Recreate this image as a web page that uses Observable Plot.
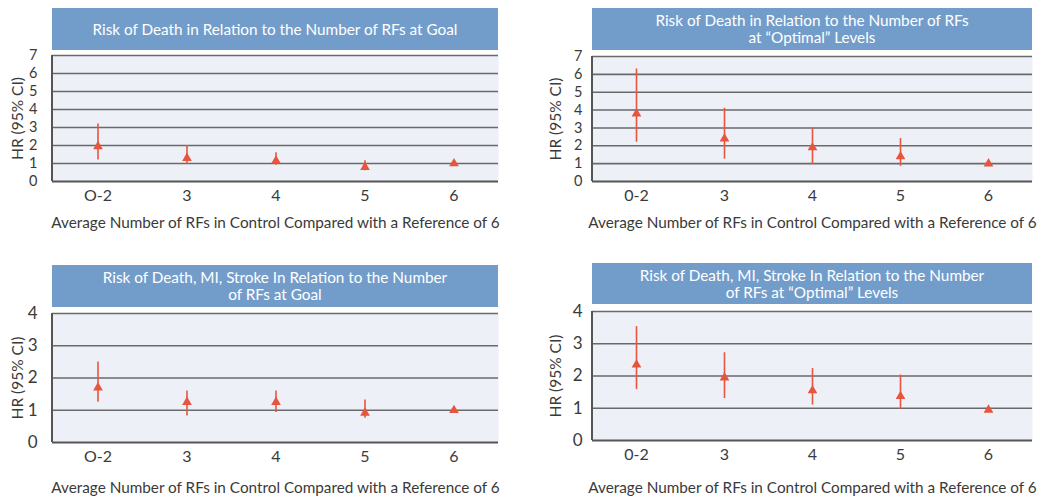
<!DOCTYPE html>
<html>
<head>
<meta charset="utf-8">
<script src="https://cdn.jsdelivr.net/npm/d3@7"></script>
<script src="https://cdn.jsdelivr.net/npm/@observablehq/plot@0.6"></script>
<style>
  body { margin: 0; background: #fff; font-family: Lato, sans-serif; }
  #root { position: relative; width: 1050px; height: 504px; overflow: hidden; }
  .ttl { position: absolute; background: #729dcb; color: #fff; font-size: 15.3px; line-height: 17px;
         display: flex; align-items: center; justify-content: center; text-align: center; }
  .pl { position: absolute; }
</style>
</head>
<body>
<div id="root"></div>
<script>
// ---- data ----
const catsLeft = ["O-2", "3", "4", "5", "6"];
const catsRight = ["0-2", "3", "4", "5", "6"];

const titles = [
  "Risk of Death in Relation to the Number of RFs at Goal",
  "Risk of Death in Relation to the Number of RFs<br>at \u201COptimal\u201D Levels",
  "Risk of Death, MI, Stroke In Relation to the Number<br>of RFs at Goal",
  "Risk of Death, MI, Stroke In Relation to the Number<br>of RFs at \u201COptimal\u201D Levels"
];

// Panel A: death, RFs at goal
const hrA = [1.95, 1.3, 1.15, 0.8, 1.0];
const loA = [1.2, 0.95, 0.9, 0.6, null];
const hiA = [3.2, 2.0, 1.6, 1.15, null];
// Panel B: death, RFs at optimal
const hrB = [3.8, 2.4, 1.9, 1.4, 1.0];
const loB = [2.2, 1.25, 0.95, 0.85, null];
const hiB = [6.3, 4.1, 3.0, 2.4, null];
// Panel C: death/MI/stroke, RFs at goal
const hrC = [1.7, 1.25, 1.25, 0.92, 1.0];
const loC = [1.25, 0.82, 0.93, 0.75, null];
const hiC = [2.5, 1.6, 1.6, 1.32, null];
// Panel D: death/MI/stroke, RFs at optimal
const hrD = [2.35, 1.95, 1.55, 1.37, 0.95];
const loD = [1.58, 1.3, 1.1, 0.97, null];
const hiD = [3.53, 2.72, 2.23, 2.03, null];

const yTicksTop = [0, 1, 2, 3, 4, 5, 6, 7];
const yTicksBottom = [0, 1, 2, 3, 4];

const xLabel = "Average Number of RFs in Control Compared with a Reference of 6";
const yLabel = "HR (95% CI)";

// ---- layout ----
const panels = [
  {cats: catsLeft, hr: hrA, lo: loA, hi: hiA, ticks: yTicksTop, title: titles[0], yfs: 14.5,
   left: 0, top: 0, h: 240, mL: 52, mR: 27, mT: 55, mB: 59, tp: 15, ylx: -34, xly: 42, tb: [52, 8, 446, 42]},
  {cats: catsRight, hr: hrB, lo: loB, hi: hiB, ticks: yTicksTop, title: titles[1], yfs: 14.5,
   left: 525, top: 0, h: 240, mL: 67, mR: 18, mT: 56, mB: 59, tp: 10, ylx: -36, xly: 42, tb: [592, 8, 440, 42]},
  {cats: catsLeft, hr: hrC, lo: loC, hi: hiC, ticks: yTicksBottom, title: titles[2], yfs: 17,
   left: 0, top: 260, h: 244, mL: 52, mR: 27, mT: 53, mB: 62, tp: 15, ylx: -34, xly: 46, tb: [52, 265, 446, 42]},
  {cats: catsRight, hr: hrD, lo: loD, hi: hiD, ticks: yTicksBottom, title: titles[3], yfs: 17,
   left: 525, top: 260, h: 244, mL: 67, mR: 18, mT: 51, mB: 64, tp: 10, ylx: -36, xly: 48, tb: [592, 263, 440, 41]}
];

const root = document.getElementById("root");
const red = "#e8553f";

for (const p of panels) {
  const data = p.cats.map((c, i) => ({cat: c, hr: p.hr[i], lo: p.lo[i], hi: p.hi[i]}));
  const ci = data.filter(d => d.lo != null);
  const yMax = p.ticks[p.ticks.length - 1];

  const leftLine = (index, scales, values, dims) => {
    const l = document.createElementNS("http://www.w3.org/2000/svg", "line");
    l.setAttribute("x1", dims.marginLeft); l.setAttribute("x2", dims.marginLeft);
    l.setAttribute("y1", scales.y(yMax)); l.setAttribute("y2", scales.y(0));
    l.setAttribute("stroke", "#555"); l.setAttribute("stroke-width", 2);
    return l;
  };

  const chart = Plot.plot({
    width: 525,
    height: p.h,
    marginLeft: p.mL, marginRight: p.mR, marginTop: p.mT, marginBottom: p.mB,
    style: {fontFamily: "Lato, sans-serif", background: "transparent", color: "#3a3a3a"},
    x: {type: "band", domain: p.cats, padding: 0, label: null},
    y: {domain: [0, yMax], label: null},
    marks: [
      Plot.frame({fill: "#eef0f8", stroke: "none"}),
      Plot.ruleY(p.ticks.filter(t => t > 0), {stroke: "#6a6a6a", strokeWidth: 1.6}),
      Plot.ruleY([0], {stroke: "#555", strokeWidth: 2}),
      leftLine,
      Plot.axisX({tickSize: 0, tickPadding: 8, fontSize: 16, label: null}),
      Plot.axisY({ticks: p.ticks, tickSize: 0, tickPadding: p.tp, fontSize: p.yfs, tickFormat: d => d, label: null}),
      Plot.text([xLabel], {frameAnchor: "bottom", dy: p.xly, lineAnchor: "middle", textAnchor: "middle",
                           fontSize: 15.3, fill: "#3a3a3a"}),
      Plot.text([yLabel], {frameAnchor: "left", dx: p.ylx, rotate: -90, textAnchor: "middle", lineAnchor: "middle",
                           fontSize: 15.5, fill: "#3a3a3a"}),
      Plot.ruleX(ci, {x: "cat", y1: "lo", y2: "hi", stroke: red, strokeWidth: 1.6}),
      Plot.dot(data, {x: "cat", y: "hr", symbol: "triangle", fill: red, stroke: "none", r: 3.6})
    ]
  });
  chart.classList.add("pl");
  chart.style.left = p.left + "px";
  chart.style.top = p.top + "px";
  root.appendChild(chart);

  const t = document.createElement("div");
  t.className = "ttl";
  t.style.left = p.tb[0] + "px"; t.style.top = p.tb[1] + "px";
  t.style.width = p.tb[2] + "px"; t.style.height = p.tb[3] + "px";
  t.innerHTML = p.title;
  root.appendChild(t);
}
</script>
</body>
</html>
